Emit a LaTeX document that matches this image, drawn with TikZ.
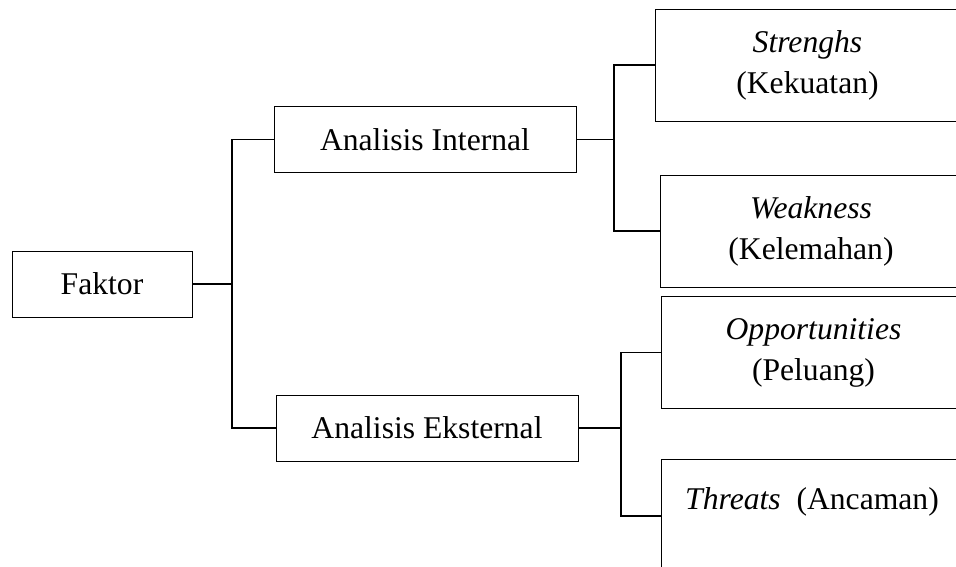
\documentclass[tikz,border=0pt]{standalone}
\usepackage{fontspec}
\setmainfont{Liberation Serif}
\usetikzlibrary{positioning,calc}

\begin{document}
\begin{tikzpicture}[
                x=0.03cm, y=-0.03cm,
                font=\fontsize{27}{35}\selectfont,
                box/.style={rectangle, draw, line width=0.8pt, align=center,
                        minimum width=9.06cm, minimum height=1.98cm, inner sep=2pt},
                leaf/.style={rectangle, draw, line width=0.8pt, align=center,
                        minimum width=9.15cm, minimum height=3.36cm, inner sep=2pt},
                edge/.style={draw, line width=1.4pt},
            ]
            \clip (0,0) rectangle (956,567);

            % ── Root ──────────────────────────────────────────────
            \node[box, minimum width=5.4cm] (fak) at (102,284) {Faktor};

            % ── Level 1 ───────────────────────────────────────────
            \node[box] (ai) at (425,139.5) {Analisis Internal};
            \node[box] (ae) at (427,428)   {Analisis Eksternal};
            \coordinate (j1) at (232,284);
            \draw[edge] (fak.east) -- (j1);
            \draw[edge] (ai.west) -| (j1) |- (ae.west);

            % ── Internal: S / W ───────────────────────────────────
            \node[leaf] (st) at (807.5,65) {\textit{Strenghs}\\(Kekuatan)};
            \node[leaf, minimum width=9.06cm] (wk) at (811,231) {\textit{Weakness}\\(Kelemahan)};
            \coordinate (j2) at (614,139.5);
            \draw[edge] (ai.east) -- (j2);
            \draw[edge] (st.west) -| (j2) |- (wk.west);

            % ── Eksternal: O / T ──────────────────────────────────
            \node[leaf] (op) at (813.5,352.5) {\textit{Opportunities}\\(Peluang)};
            \node[leaf, minimum height=3.42cm] (th) at (814,516) {};
            \node (thtext) at (812,502) {\textit{Threats}~ (Ancaman)};
            \coordinate (j3) at (621,428);
            \draw[edge] (ae.east) -- (j3);
            \draw[edge] (op.west) -| (j3) |- (th.west);
        \end{tikzpicture}
\end{document}
